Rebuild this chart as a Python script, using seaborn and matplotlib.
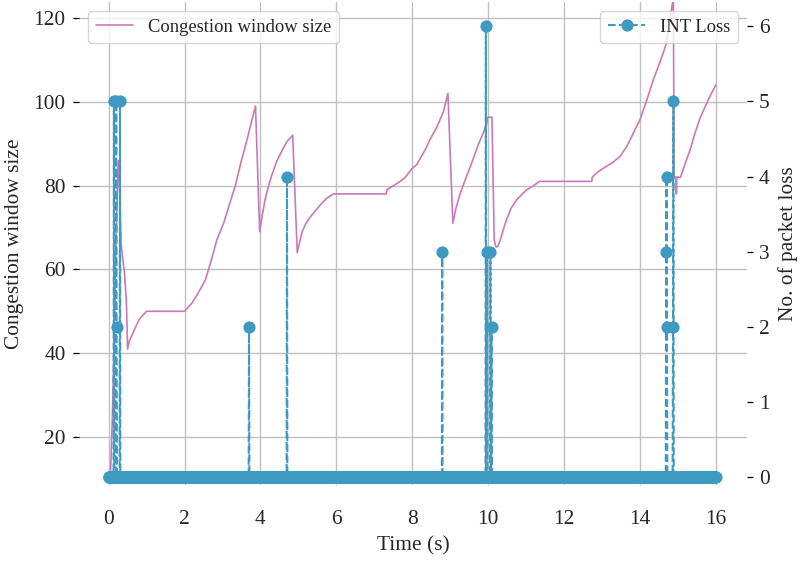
import numpy as np
import pandas as pd
import matplotlib
matplotlib.use("Agg")
import matplotlib.pyplot as plt
import seaborn as sns

# Congestion window trace (time in s, window in packets)
cwnd_time = [
    0.00, 0.05, 0.10, 0.15, 0.20, 0.25, 0.27, 0.30, 0.33, 0.38, 0.42, 0.47, 0.50,
    0.55, 0.60, 0.65, 0.70, 0.75, 0.80, 0.90, 1.00, 2.00,
    2.20, 2.40, 2.55, 2.70, 2.85, 3.03, 3.20, 3.34, 3.50, 3.65, 3.80, 3.87,
    3.98, 4.05, 4.12, 4.20, 4.30, 4.44, 4.55, 4.70, 4.85,
    4.97, 5.02, 5.10, 5.20, 5.32, 5.45, 5.58, 5.75, 5.93, 7.32,
    7.33, 7.51, 7.68, 7.82, 7.99, 8.12, 8.21, 8.34, 8.47, 8.65, 8.82, 8.94,
    9.07, 9.15, 9.26, 9.40, 9.53, 9.65, 9.75, 9.87, 9.97, 9.98, 10.10,
    10.16, 10.20, 10.25, 10.32, 10.40, 10.49, 10.60, 10.75, 10.90, 11.02, 11.20, 11.35, 12.73,
    12.74, 12.90, 13.08, 13.25, 13.47, 13.65, 13.74, 13.91, 14.00, 14.18, 14.35, 14.53, 14.70, 14.88,
    14.90, 14.95, 14.96, 14.97, 15.07, 15.20, 15.32, 15.45, 15.58, 15.80, 16.00,
]
cwnd_size = [
    10, 11, 25, 45, 68, 85, 86, 76, 66, 62, 59, 52, 41,
    43, 44, 45, 46, 47, 48, 49, 50, 50,
    52, 55, 57.5, 62, 67, 71, 76, 80, 86, 91, 96.5, 99,
    69, 73, 76.5, 79.5, 82.5, 86, 88, 90.5, 92,
    64, 66, 69, 71, 72.6, 74, 75.4, 77, 78, 78,
    79, 80, 81, 82, 84, 85, 86.5, 88.5, 91, 94, 97.6, 102,
    71, 74.5, 78, 81.5, 84.5, 87.5, 90, 92.5, 95, 96.3, 96.3,
    67, 65.4, 65.4, 67, 69.5, 72, 74.5, 76.6, 78, 79, 80, 81, 81,
    82, 83.3, 84.4, 85.3, 86.9, 89.3, 90.9, 94.1, 95.7, 100.4, 105.2, 109.5, 114, 125,
    82, 82, 78, 82, 82, 85.5, 88.5, 92.5, 96, 100.5, 104,
]

# INT-reported packet loss: one sample every 10 ms, zero except at these instants
loss_spike_time = [0.14, 0.20, 0.21, 0.30, 3.70, 4.70, 8.79, 9.94, 9.97,
                   10.06, 10.09, 14.69, 14.70, 14.71, 14.87, 14.88]
loss_spike_count = [5, 5, 2, 5, 2, 4, 3, 6, 3, 3, 2, 3, 4, 2, 2, 5]
loss_sample_period = 0.01
loss_duration = 16.0

x_ticks = [0, 2, 4, 6, 8, 10, 12, 14, 16]
left_ticks = [20, 40, 60, 80, 100, 120]
right_ticks = [0, 1, 2, 3, 4, 5, 6]

PINK = "#cc78b8"
BLUE = "#3f9ac2"
LABEL_SIZE = 15.4
LEGEND_SIZE = 13.4

n_samples = int(round(loss_duration / loss_sample_period)) + 1
loss_t = np.round(np.arange(n_samples) * loss_sample_period, 2)
loss_n = np.zeros(n_samples)
for t, c in zip(loss_spike_time, loss_spike_count):
    loss_n[int(round(t / loss_sample_period))] = c

cwnd_df = pd.DataFrame({"time": cwnd_time, "cwnd": cwnd_size})
loss_df = pd.DataFrame({"time": loss_t, "loss": loss_n})

sns.set_theme(style="whitegrid")
plt.rcParams["font.family"] = ["Liberation Serif", "DejaVu Serif"]

fig = plt.figure(figsize=(8, 5.67), dpi=100)
W, H = 800, 567
ax = fig.add_axes([79 / W, (H - 485) / H, (747 - 79) / W, (485 - 2) / H])

sns.lineplot(data=cwnd_df, x="time", y="cwnd", ax=ax, color=PINK, lw=1.2,
             label="Congestion window size", legend=False, sort=False)

ax2 = ax.twinx()
sns.lineplot(data=loss_df, x="time", y="loss", ax=ax2, color=BLUE, lw=1.5,
             linestyle="--", marker="o", markersize=8.8, markeredgecolor=BLUE,
             markeredgewidth=0, label="INT Loss", legend=False, sort=False)

ax.set_xlim(-0.78, 16.82)
ax.set_ylim(8.55, 123.8)
ax2.set_ylim(-0.1, 6.32)

ax.set_xticks(x_ticks)
ax.set_yticks(left_ticks)
ax2.set_yticks(right_ticks)

ax.grid(True, color="#c0c0c0", lw=1.0)
ax2.grid(False)

for a in (ax, ax2):
    for s in a.spines.values():
        s.set_visible(False)
ax.spines["bottom"].set_position(("outward", 11))

ax.tick_params(axis="y", length=4.2, width=0.9, color="black",
               labelsize=LABEL_SIZE, pad=5.5)
ax.tick_params(axis="x", length=4.2, width=0.9, color="black",
               labelsize=LABEL_SIZE, pad=3)
ax2.tick_params(axis="y", length=4.2, width=0.9, color="black",
                labelsize=LABEL_SIZE, pad=4.5)

ax.set_xlabel("Time (s)", fontsize=LABEL_SIZE, labelpad=5)
ax.set_ylabel("Congestion window size", fontsize=LABEL_SIZE, labelpad=7)
ax2.set_ylabel("No. of packet loss", fontsize=LABEL_SIZE, labelpad=6)

ax.legend(loc="upper left", fontsize=LEGEND_SIZE)
ax2.legend(loc="upper right", fontsize=LEGEND_SIZE)

fig.savefig("out.png", dpi=100)
